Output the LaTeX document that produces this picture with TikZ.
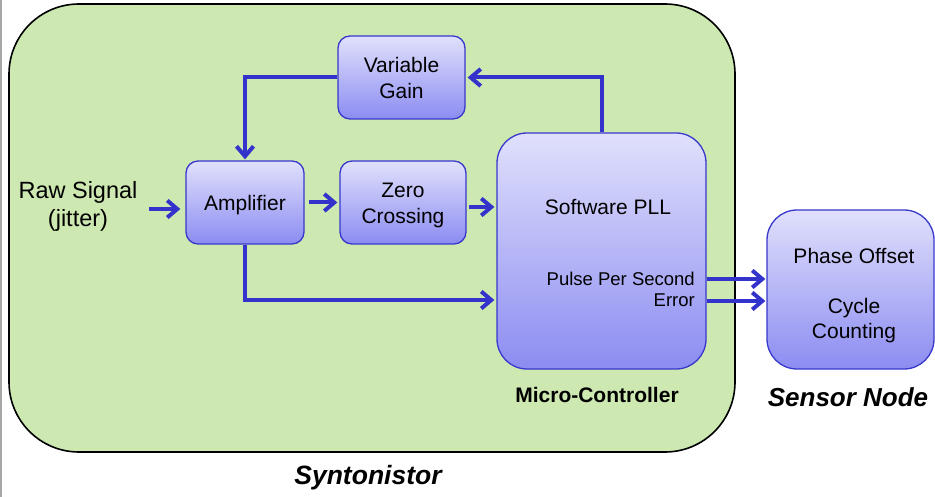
\documentclass[tikz,border=0pt]{standalone}
\usepackage{fontspec}
\setmainfont{Liberation Sans}
\usetikzlibrary{arrows.meta}
\definecolor{grn}{RGB}{205,232,176}
\definecolor{bdr}{RGB}{56,56,204}
\definecolor{btop}{RGB}{224,224,252}
\definecolor{bbot}{RGB}{140,140,242}
\definecolor{arr}{RGB}{51,51,204}
\begin{document}
\begin{tikzpicture}[x=1pt,y=-1pt,
  blk/.style={draw=bdr, line width=1.3pt, rounded corners=12pt, top color=btop, bottom color=bbot,
    inner sep=0pt, align=center, font=\fontsize{21}{26}\selectfont},
  conn/.style={draw=arr, line width=4pt, -{Straight Barb[length=10pt,width=17pt]}},
  txt/.style={inner sep=0pt, align=center, font=\fontsize{21}{26}\selectfont}]
\useasboundingbox (0,0) rectangle (935,497);
\draw[gray!70, line width=1.5pt] (0.75,0) -- (0.75,497);
% outer box
\draw[fill=grn, line width=1.6pt, rounded corners=70pt] (9,4) rectangle (735,452);
% blocks
\node[blk, minimum width=127pt, minimum height=83pt] (vg) at (401.5,77.5) {};
\node[blk, minimum width=118pt, minimum height=83pt] (amp) at (245,202.5) {};
\node[blk, minimum width=126pt, minimum height=83pt] (zc) at (403,202.5) {};
\node[blk, rounded corners=30pt, minimum width=209pt, minimum height=236pt] (pll) at (601.5,251) {};
\node[blk, rounded corners=30pt, minimum width=167pt, minimum height=159pt] (sn) at (850.5,289.5) {};
% texts
\node[txt] (vgt) at (vg.center) {Variable\\Gain};
\node[txt] (ampt) at ([yshift=-2.5pt]amp.center) {Amplifier};
\node[txt] (zct) at ([yshift=-2.5pt]zc.center) {Zero\\Crossing};
\node[txt, font=\fontsize{23.5}{28}\selectfont] (raw) at (78,206) {Raw Signal\\(jitter)};
\node[txt] (spll) at (608,207) {Software PLL};
\node[txt, anchor=east, align=right, font=\fontsize{18.5}{21}\selectfont] (pps) at (695,289.5) {Pulse Per Second\\Error};
\node[txt] (po) at (854,256) {Phase Offset};
\node[txt, font=\fontsize{21}{25}\selectfont] (cc) at (854,320.5) {Cycle\\Counting};
\node[txt, font=\fontsize{21}{25}\bfseries\selectfont] (mc) at (597,395) {Micro-Controller};
\node[txt, font=\fontsize{26}{30}\bfseries\itshape\selectfont] (snl) at (848,397) {Sensor Node};
\node[txt, font=\fontsize{26.5}{30}\bfseries\itshape\selectfont] (syn) at (368,478) {Syntonistor};
% connectors
\draw[conn, shorten <=11pt, shorten >=5pt] ([yshift=-3pt]raw.east) -- ([yshift=-3pt]raw.east -| amp.west);
\draw[conn, shorten <=4pt, shorten >=2pt] (amp.east) -- (zc.west);
\draw[conn, shorten <=2pt, shorten >=2pt] ([yshift=-4.5pt]zc.east) -- ([yshift=-4.5pt]zc.east -| pll.west);
\draw[conn, shorten >=2pt] (amp.south) |- ([yshift=-49pt]pll.west);
\draw[conn, shorten >=2pt] (pll.north) |- (vg.east);
\draw[conn, shorten >=1pt] (vg.west) -| (amp.north);
\draw[conn, shorten >=1pt] ([yshift=-28pt]pll.east) -- ([yshift=-28pt]pll.east -| sn.west);
\draw[conn, shorten >=1pt] ([yshift=-50pt]pll.east) -- ([yshift=-50pt]pll.east -| sn.west);
\end{tikzpicture}
\end{document}
